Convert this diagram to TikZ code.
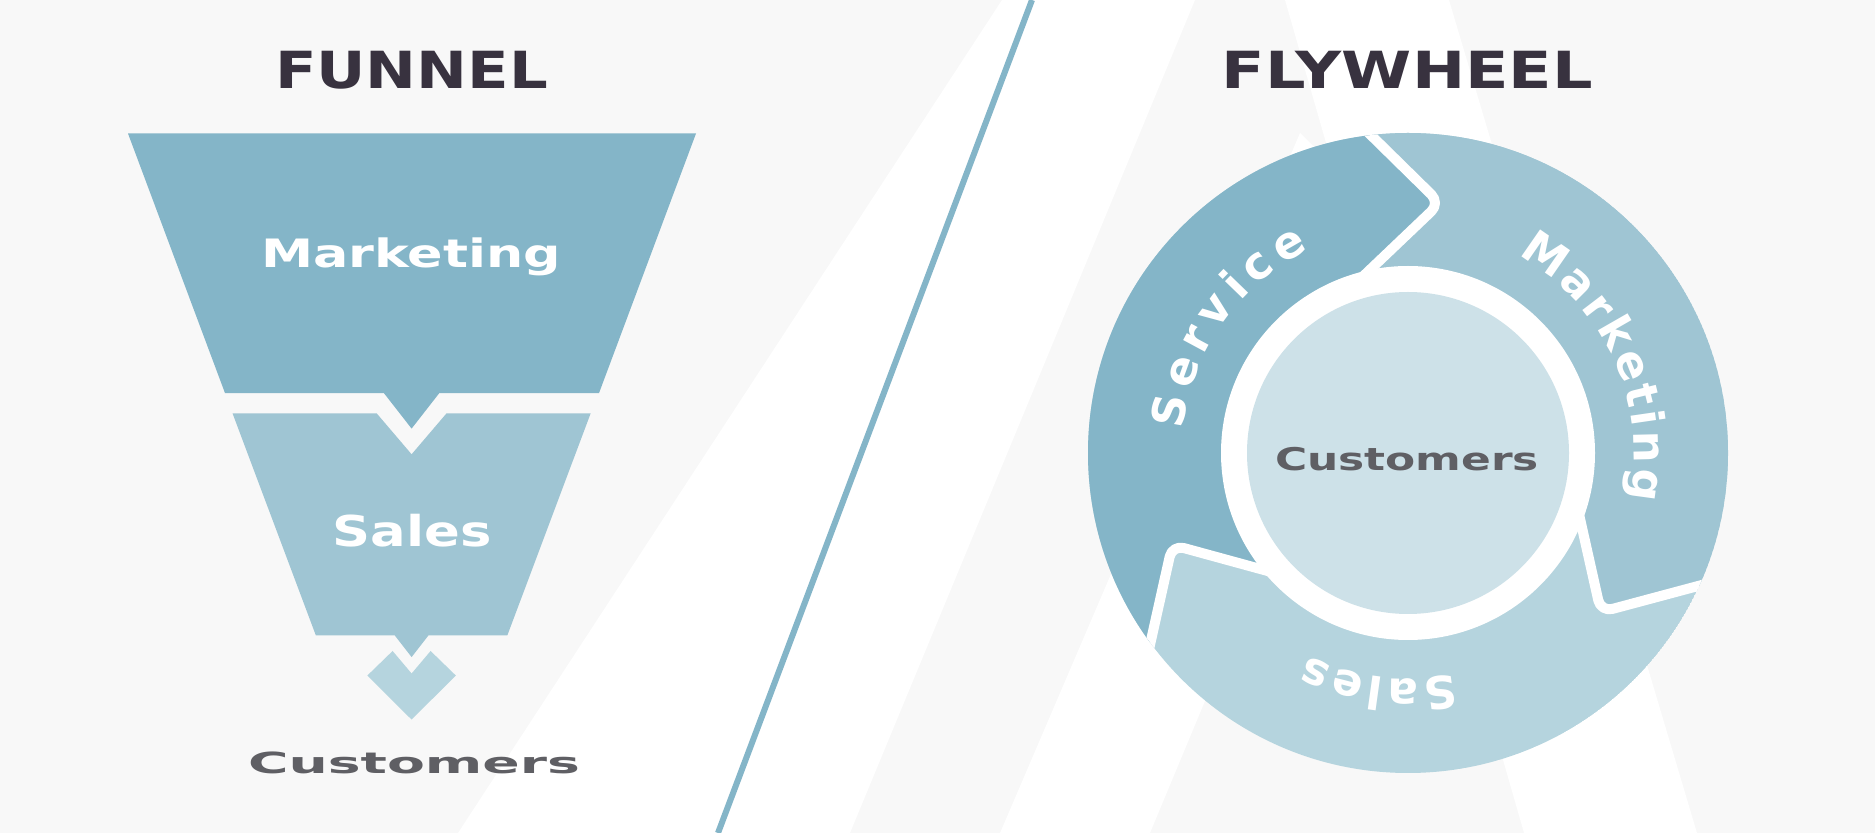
\documentclass[tikz,border=0pt]{standalone}
\usepackage{fontspec}
\setmainfont{DejaVu Sans Bold}
\usetikzlibrary{calc}
\definecolor{bgg}{HTML}{F8F8F8}
\definecolor{cA}{HTML}{84B5C8}
\definecolor{cB}{HTML}{9FC5D3}
\definecolor{cC}{HTML}{B5D4DE}
\definecolor{cD}{HTML}{CDE1E8}
\definecolor{ttl}{HTML}{38323F}
\definecolor{cust}{HTML}{5F5F64}
\newcommand\ringstyle{\fontsize{45pt}{45pt}\selectfont}
% name, x, y, width, cap height, colour, text
\newcommand\fitnode[7]{%
  \pgfmathsetmacro\fw{width("#7")}%
  \pgfmathsetmacro\fh{height("H")}%
  \pgfmathsetmacro\sx{#4/\fw}%
  \pgfmathsetmacro\sy{#5/\fh}%
  \begin{scope}[shift={(#2,#3)}]
    \node[anchor=base,inner sep=0pt,outer sep=0pt,text=#6,xscale=\sx,yscale=\sy,transform shape] (#1) at (0,0) {#7};
  \end{scope}}
% centre angle, radius, letters, tracking, name prefix  (clockwise, letters face outwards)
\newcommand\ringword[5]{%
  \xdef\rwTot{0}%
  \foreach \lt in {#3}{\pgfmathsetmacro\rwT{\rwTot+4.5*width("\lt")+#4}\xdef\rwTot{\rwT}}%
  \pgfmathsetmacro\rwA{#1+(\rwTot-#4)/2/#2*180/pi}\xdef\rwAng{\rwA}%
  \foreach \lt [count=\ri] in {#3}{%
    \pgfmathsetmacro\rwW{4.5*width("\lt")}%
    \pgfmathsetmacro\rwM{\rwAng-\rwW/2/#2*180/pi}%
    \node[rotate=\rwM-90,anchor=base,inner sep=0pt,outer sep=0pt,text=white,font=\ringstyle] (#5\ri) at (\rwM:#2) {\lt};
    \pgfmathsetmacro\rwN{\rwAng-(\rwW+#4)/#2*180/pi}\xdef\rwAng{\rwN}%
  }}
\begin{document}
\begin{tikzpicture}[x=1pt,y=1pt,
  sep/.style={white,line width=10pt,rounded corners=12pt,line join=round}]
\useasboundingbox (0,0) rectangle (1875,833);
% background
\fill[bgg] (0,0) rectangle (1875,833);
\fill[white] (1002,833) -- (1195,833) -- (850,0) -- (458,0) -- cycle;
\fill[white] (1285,833) -- (1449,833) -- (1697,0) -- (1524,0) -- cycle;
\fill[white] (1000,0) -- (1150,0) -- (1400,600) -- (1300,700) -- cycle;
\draw[cA,line width=6pt] (1032,833) coordinate (dtop) -- (718,0) coordinate (dbot);
% titles
\fitnode{t1}{411.5}{744}{273}{37.3}{ttl}{FUNNEL}
\fitnode{t2}{1407.3}{744}{371}{37.3}{ttl}{FLYWHEEL}
% funnel
\fill[cA] (128,699.5) -- (696,699.5) -- (599,439.9) -- (439.3,439.9) -- (411.6,404.4) -- (383.9,439.9) -- (225,439.9) -- cycle;
\fill[cB] (232.6,419.5) -- (376.8,419.5) -- (411.6,378.7) -- (446.4,419.5) -- (590.6,419.5) -- (507.3,197.5) -- (428.4,197.5) -- (411.6,175.9) -- (394.8,197.5) -- (315.9,197.5) -- cycle;
\fill[cC] (367.4,157.5) -- (392.6,182) -- (411.6,159.5) -- (430.6,182) -- (455.8,157.5) -- (411.6,113.4) -- cycle;
\fitnode{fm}{411}{565.7}{300}{28.5}{white}{Marketing}
\fitnode{fs}{412}{286}{159}{31}{white}{Sales}
\fitnode{fc}{414}{59.7}{332}{21.2}{cust}{Customers}
% flywheel
\begin{scope}[shift={(1408,380)}]
  \coordinate (O1) at (96.8:321); \coordinate (T1) at (82.7:252); \coordinate (I1) at (101.3:188);
  \coordinate (O2) at (-24.8:318); \coordinate (T2) at (-39.5:250); \coordinate (I2) at (-21.3:185);
  \coordinate (O3) at (216.4:320); \coordinate (T3) at (201.3:253); \coordinate (I3) at (218.9:186);
  \foreach \k in {1,2,3}{
    \coordinate (O\k e) at ($(T\k)!1.4!(O\k)$);
    \coordinate (I\k e) at ($(T\k)!1.4!(I\k)$);
  }
  \begin{scope}
    \clip (0,0) circle[radius=320];
    \fill[cC] (0,0) circle[radius=320];
    \fill[cB,rounded corners=12pt] (O1e) -- (T1) -- (I1e) -- (0,0) -- (I2e) -- (T2) -- (O2e) -- (-24.8:450) -- (36:450) -- (96.8:450) -- cycle;
    \fill[cA,rounded corners=12pt] (O3e) -- (T3) -- (I3e) -- (0,0) -- (I1e) -- (T1) -- (O1e) -- (96.8:450) -- (156:450) -- (216.4:450) -- cycle;
    \draw[sep] (O1e) -- (T1) -- (I1e);
    \draw[sep] (O2e) -- (T2) -- (I2e);
    \draw[sep] (O3e) -- (T3) -- (I3e);
  \end{scope}
  \fill[white] (0,0) circle[radius=187];
  \node[circle,fill=cD,minimum size=322pt,inner sep=0pt] (core) at (0,0) {};
  \ringword{145}{226}{S,e,r,v,i,c,e}{7}{sv}
  \ringword{24.6}{226}{M,a,r,k,e,t,i,n,g}{3.5}{mk}
  \ringword{-97.2}{226}{S,a,l,e,s}{3.5}{sl}
\end{scope}
\fitnode{wc}{1407}{362.3}{264}{22.8}{cust}{Customers}
\end{tikzpicture}
\end{document}
